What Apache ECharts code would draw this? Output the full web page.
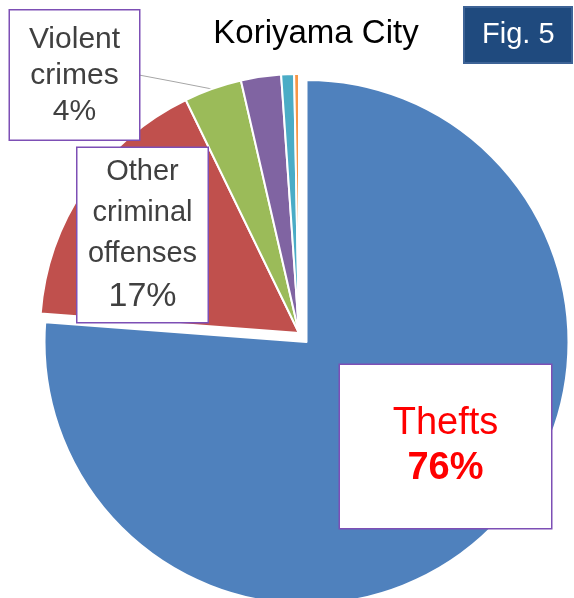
<!DOCTYPE html>
<html>
<head>
<meta charset="utf-8">
<script src="https://cdn.jsdelivr.net/npm/echarts@6/dist/echarts.min.js"></script>
<style>
  html, body { margin: 0; padding: 0; background: #fff; }
  #main { width: 574px; height: 598px; }
</style>
</head>
<body>
<div id="main"></div>
<script>
// crime categories, Koriyama City (share of recognised offenses)
var categories = ['Thefts', 'Other criminal offenses', 'Violent crimes', 'Intellectual crimes', 'Moral offenses', 'Felonies'];
var shares = [76.2, 16.6, 3.6, 2.5, 0.8, 0.3];
var sliceColors = ['#4F81BD', '#C0504D', '#9BBB59', '#8064A2', '#4BACC6', '#F79646'];

var chartDom = document.getElementById('main');
var myChart = echarts.init(chartDom);

var FONT = 'Arial, "Liberation Sans", sans-serif';

var boxStyle = {
  backgroundColor: '#fff',
  borderColor: '#7d4fb5',
  borderWidth: 1.5
};

// label box per slice (only the first three get a box)
var labelCfg = [
  {
    show: true,
    position: 'inside',
    formatter: '{a|Thefts}\n{b|{d}%}',
    width: 211,
    padding: [36, 0, 37, 0],
    rich: {
      a: { fontSize: 38, lineHeight: 45, color: '#FF0000', fontFamily: FONT, align: 'center' },
      b: { fontSize: 38, lineHeight: 45, color: '#FF0000', fontWeight: 'bold', fontFamily: FONT, align: 'center' }
    }
  },
  {
    show: true,
    position: 'inside',
    formatter: '{a|Other}\n{a|criminal}\n{a|offenses}\n{b|{d}%}',
    width: 130,
    padding: [3, 0, 2, 0],
    rich: {
      a: { fontSize: 29, lineHeight: 41, color: '#404040', fontFamily: FONT, align: 'center' },
      b: { fontSize: 34, lineHeight: 46, color: '#404040', fontFamily: FONT, align: 'center' }
    }
  },
  {
    show: true,
    position: 'outside',
    formatter: '{a|Violent}\n{a|crimes}\n{a|{d}%}',
    width: 129,
    padding: [11, 0, 10, 0],
    rich: {
      a: { fontSize: 30, lineHeight: 36, color: '#404040', fontFamily: FONT, align: 'center' }
    }
  }
];

// where each label box sits (centre of box)
var labelPos = [
  { x: 445.5, y: 446.5 },
  { x: 142.5, y: 235 },
  { x: 74.5, y: 75 }
];

// main pie: all slices except the pulled-out Thefts slice, plus all labels
var mainData = categories.map(function (name, i) {
  var item = {
    name: name,
    value: shares[i],
    itemStyle: { color: sliceColors[i] }
  };
  if (i === 0) {
    item.itemStyle = { color: 'rgba(0,0,0,0)', borderWidth: 0 };
  }
  if (labelCfg[i]) {
    item.label = Object.assign({}, boxStyle, labelCfg[i]);
    item.labelLine = { show: i === 2, length: 10, length2: 10, lineStyle: { color: '#a6a6a6', width: 1 } };
  } else {
    item.label = { show: false };
    item.labelLine = { show: false };
  }
  return item;
});

// exploded pie: only Thefts visible, shifted out along its bisector
var explodedData = categories.map(function (name, i) {
  return {
    name: name,
    value: shares[i],
    itemStyle: i === 0 ? { color: sliceColors[0] } : { color: 'rgba(0,0,0,0)', borderWidth: 0 }
  };
});

var option = {
  animation: false,
  title: [
    {
      text: 'Koriyama City',
      left: 311,
      top: 12,
      textAlign: 'center',
      textStyle: { fontSize: 33, fontWeight: 'normal', color: '#000', fontFamily: FONT }
    },
    {
      text: 'Fig. 5',
      left: 464,
      top: 7,
      backgroundColor: '#1F4A7E',
      borderColor: '#3d6396',
      borderWidth: 2,
      padding: [13, 18, 13, 18],
      textStyle: { fontSize: 29, fontWeight: 'normal', color: '#fff', fontFamily: FONT, lineHeight: 30 }
    }
  ],
  series: [
    {
      type: 'pie',
      z: 1,
      center: [306.5, 342],
      radius: 262,
      startAngle: 90,
      clockwise: true,
      silent: true,
      label: { show: false },
      labelLine: { show: false },
      itemStyle: { borderColor: '#fff', borderWidth: 2 },
      emphasis: { disabled: true },
      data: explodedData
    },
    {
      type: 'pie',
      z: 2,
      center: [299, 333],
      radius: 259,
      startAngle: 90,
      clockwise: true,
      percentPrecision: 0,
      avoidLabelOverlap: false,
      itemStyle: { borderColor: '#fff', borderWidth: 2 },
      emphasis: { disabled: true },
      data: mainData,
      labelLayout: function (params) {
        var p = labelPos[params.dataIndex];
        if (!p) return {};
        var res = { x: p.x, y: p.y, align: 'center', verticalAlign: 'middle' };
        if (params.dataIndex === 2) {
          res.labelLinePoints = [[212, 89], [176, 82], [139, 75]];
        }
        return res;
      }
    }
  ]
};

myChart.setOption(option);
</script>
</body>
</html>
